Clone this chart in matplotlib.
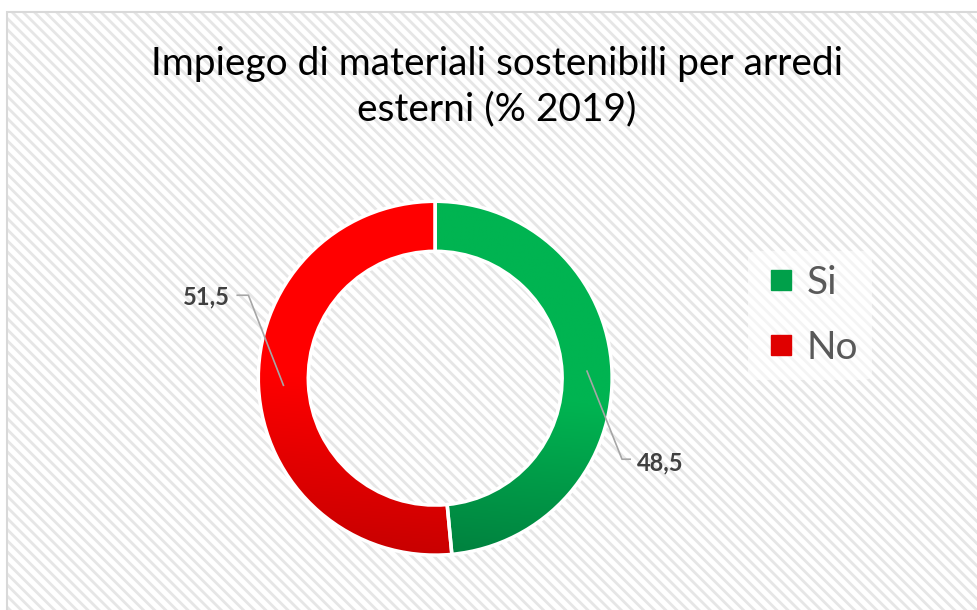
import numpy as np
import matplotlib
matplotlib.use("Agg")
import matplotlib.pyplot as plt
from matplotlib.patches import Rectangle
from matplotlib.colors import LinearSegmentedColormap
from matplotlib.lines import Line2D

plt.rcParams['font.family'] = ['Lato', 'DejaVu Sans']
plt.rcParams['hatch.linewidth'] = 2.0

title = "Impiego di materiali sostenibili per arredi\nesterni (% 2019)"
labels = ['Si', 'No']
values = [48.5, 51.5]
value_text = ['48,5', '51,5']
light = ['#00B451', '#FF0000']
dark = ['#00743A', '#BC0000']

fig = plt.figure(figsize=(9.78, 6.10), dpi=100)

# hatched chart area + border
bg = Rectangle((7/978, -0.05), 1.1, 1 - 12/610 + 0.05, transform=fig.transFigure,
               facecolor='white', edgecolor='#E6E6E6', hatch='\\\\\\', lw=0, zorder=-2)
fig.patches.append(bg)
border = Rectangle((7/978, -0.05), 1.1, 1 - 12/610 + 0.05, transform=fig.transFigure,
                   fill=False, edgecolor='#D9D9D9', lw=1.5, zorder=-1)
fig.patches.append(border)

fig.text(0.508, 0.858, title, ha='center', va='center', fontsize=28,
         color='black', linespacing=1.3)

ax = fig.add_axes([0.264, 0.090, 0.362, 0.580])
wedges, _ = ax.pie(values, startangle=90, counterclock=False, radius=1,
                   wedgeprops=dict(width=50/177, edgecolor='white', linewidth=2.5))
ax.set_xlim(-1, 1)
ax.set_ylim(-1, 1)
ax.set_aspect('equal')
ax.axis('off')

# gradient fills clipped to each wedge
yy, xx = np.mgrid[1:-1:300j, -1:1:300j]
t = np.clip((1 - yy) / 2 * 0.85 + (0.5 - xx * 0.15) * 0.3 - 0.1, 0, 1)
for w, c1, c2 in zip(wedges, light, dark):
    cmap = LinearSegmentedColormap.from_list('g', [c1, c1, c2])
    w.set_facecolor('none')
    im = ax.imshow(t, cmap=cmap, extent=(-1, 1, -1, 1), vmin=0, vmax=1,
                   interpolation='bilinear', zorder=0)
    im.set_clip_path(w)

# leader lines and value labels
lc = '#A6A6A6'
ax.plot([0.858, 1.056, 1.102], [0.040, -0.458, -0.458], color=lc, lw=1.2, clip_on=False)
ax.text(1.14, -0.48, value_text[0], ha='left', va='center', fontsize=17,
        fontweight='bold', color='#404040')
ax.plot([-0.858, -1.056, -1.119], [-0.040, 0.469, 0.469], color=lc, lw=1.2, clip_on=False)
ax.text(-1.16, 0.46, value_text[1], ha='right', va='center', fontsize=17,
        fontweight='bold', color='#404040')

handles = [Line2D([], [], marker='s', linestyle='none', markersize=14,
                  markerfacecolor=c, markeredgecolor=c) for c in ['#00A04A', '#E00000']]
fig.legend(handles, labels, loc='center', bbox_to_anchor=(0.828, 0.483),
           fontsize=28, labelcolor='#595959', frameon=True, facecolor='white',
           edgecolor='none', framealpha=0.6, handletextpad=0.15, labelspacing=0.75,
           borderpad=0.35, borderaxespad=0, handlelength=1.0)

fig.savefig('out.png', dpi=100)
